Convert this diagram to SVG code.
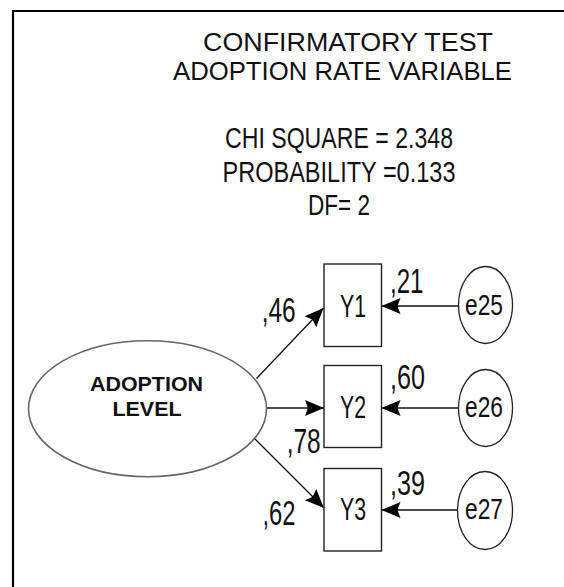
<svg xmlns="http://www.w3.org/2000/svg" width="564" height="587" viewBox="0 0 564 587">
<style>
.t{font-family:"Liberation Sans",Arial,sans-serif;fill:#111;}
.box{fill:#fff;stroke:#222;stroke-width:1.4;}
.err{fill:#fff;stroke:#222;stroke-width:1.3;}
.lat{fill:#fff;stroke:#666;stroke-width:1.6;}
.con{stroke:#111;stroke-width:1.3;fill:none;}
.lab{font-size:35px;}
</style>
<defs>
<marker id="ah" markerUnits="userSpaceOnUse" markerWidth="22" markerHeight="22" viewBox="0 0 22 22" refX="19" refY="11" orient="auto">
<path d="M0,3 L19,11 L0,19 L3,11 Z" fill="#000"/>
</marker>
</defs>
<rect width="564" height="587" fill="#fff"/>
<path d="M13,587 V11 H564" fill="none" stroke="#000" stroke-width="2.2"/>
<g id="title">
<text class="t" x="203" y="50.7" font-size="25.5" textLength="290" lengthAdjust="spacingAndGlyphs">CONFIRMATORY TEST</text>
<text class="t" x="173" y="80" font-size="25.5" textLength="339" lengthAdjust="spacingAndGlyphs">ADOPTION RATE VARIABLE</text>
</g>
<g id="stats">
<text class="t" x="225" y="148" font-size="30" textLength="228" lengthAdjust="spacingAndGlyphs">CHI SQUARE = 2.348</text>
<text class="t" x="222.5" y="181.5" font-size="30" textLength="233" lengthAdjust="spacingAndGlyphs">PROBABILITY =0.133</text>
<text class="t" x="308" y="215" font-size="30" textLength="62" lengthAdjust="spacingAndGlyphs">DF= 2</text>
</g>
<g id="connectors">
<line class="con" x1="256.5" y1="378.5" x2="323.5" y2="308" marker-end="url(#ah)"/>
<line class="con" x1="266.5" y1="408" x2="324" y2="408" marker-end="url(#ah)"/>
<line class="con" x1="254.5" y1="438.5" x2="324" y2="508" marker-end="url(#ah)"/>
<line class="con" x1="458.5" y1="306" x2="381.5" y2="306" marker-end="url(#ah)"/>
<line class="con" x1="458.5" y1="408" x2="381.5" y2="408" marker-end="url(#ah)"/>
<line class="con" x1="458.5" y1="510" x2="381.5" y2="510" marker-end="url(#ah)"/>
</g>
<g id="adoption-level">
<ellipse class="lat" cx="147.5" cy="408.7" rx="119" ry="68"/>
<text class="t" x="146.5" y="391" font-size="21" font-weight="bold" text-anchor="middle" textLength="113" lengthAdjust="spacingAndGlyphs">ADOPTION</text>
<text class="t" x="147" y="416" font-size="21" font-weight="bold" text-anchor="middle" textLength="69" lengthAdjust="spacingAndGlyphs">LEVEL</text>
</g>
<g id="Y1">
<rect class="box" x="324" y="264" width="57.5" height="82.5"/>
<text class="t" x="353" y="316.7" font-size="32" text-anchor="middle" textLength="26" lengthAdjust="spacingAndGlyphs">Y1</text>
</g>
<g id="Y2">
<rect class="box" x="324" y="365.5" width="57.5" height="82"/>
<text class="t" x="353" y="418.3" font-size="32" text-anchor="middle" textLength="26" lengthAdjust="spacingAndGlyphs">Y2</text>
</g>
<g id="Y3">
<rect class="box" x="324" y="468.5" width="57.5" height="82.5"/>
<text class="t" x="353" y="520" font-size="32" text-anchor="middle" textLength="26" lengthAdjust="spacingAndGlyphs">Y3</text>
</g>
<g id="e25">
<ellipse class="err" cx="485.5" cy="305" rx="27" ry="38.5"/>
<text class="t" x="484" y="315" font-size="30" text-anchor="middle" textLength="38" lengthAdjust="spacingAndGlyphs">e25</text>
</g>
<g id="e26">
<ellipse class="err" cx="485.5" cy="408" rx="27" ry="38.5"/>
<text class="t" x="484" y="416.5" font-size="30" text-anchor="middle" textLength="38" lengthAdjust="spacingAndGlyphs">e26</text>
</g>
<g id="e27">
<ellipse class="err" cx="485" cy="510.5" rx="27.5" ry="39"/>
<text class="t" x="484" y="519" font-size="30" text-anchor="middle" textLength="38" lengthAdjust="spacingAndGlyphs">e27</text>
</g>
<g id="labels">
<text class="t lab" x="261.7" y="322" textLength="34" lengthAdjust="spacingAndGlyphs">,46</text>
<text class="t lab" x="390" y="292.5" textLength="33.5" lengthAdjust="spacingAndGlyphs">,21</text>
<text class="t lab" x="390" y="388.5" textLength="35" lengthAdjust="spacingAndGlyphs">,60</text>
<text class="t lab" x="286.7" y="453" textLength="34" lengthAdjust="spacingAndGlyphs">,78</text>
<text class="t lab" x="262.5" y="525" textLength="33" lengthAdjust="spacingAndGlyphs">,62</text>
<text class="t lab" x="390" y="495" textLength="35" lengthAdjust="spacingAndGlyphs">,39</text>
</g>
</svg>
